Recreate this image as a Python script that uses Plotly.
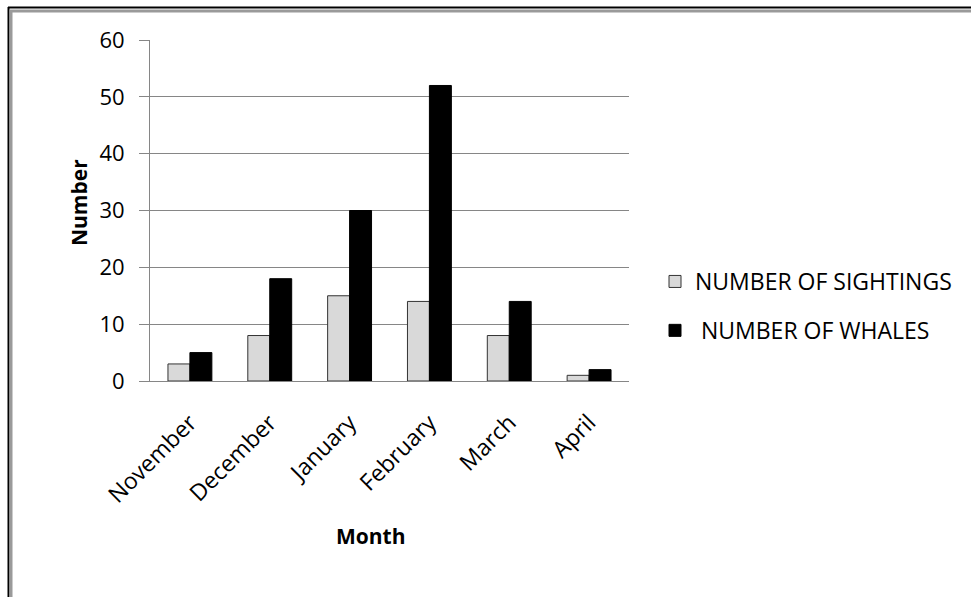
import plotly.graph_objects as go

# Monthly whale survey counts
months = ["November", "December", "January", "February", "March", "April"]
sightings = [3, 8, 15, 14, 8, 1]
whales = [5, 18, 30, 52, 14, 2]
y_ticks = [0, 10, 20, 30, 40, 50, 60]

W, H = 971, 597
L, R, T, B = 150, 342, 40, 216
PW, PH = W - L - R, H - T - B

FONT = "'Open Sans', Lato, sans-serif"


def px_x(x):
    return (x - L) / PW


def px_y(y):
    return 1 - (y - T) / PH


fig = go.Figure()
fig.add_trace(go.Bar(
    x=months, y=sightings, name="NUMBER OF SIGHTINGS", legendgroup="a",
    marker=dict(color="#d9d9d9", line=dict(color="#333333", width=1)),
))
fig.add_trace(go.Bar(
    x=months, y=whales, name=" NUMBER OF WHALES", legendgroup="b",
    marker=dict(color="#000000", line=dict(color="#000000", width=1)),
))

shapes = [
    # outer frame: thin black line with a grey inner rule
    dict(type="line", xref="paper", yref="paper",
         x0=px_x(8), x1=px_x(W + 5), y0=px_y(7.5), y1=px_y(7.5),
         line=dict(color="#000000", width=2)),
    dict(type="line", xref="paper", yref="paper",
         x0=px_x(8.5), x1=px_x(8.5), y0=px_y(7), y1=px_y(H + 5),
         line=dict(color="#000000", width=2)),
    dict(type="line", xref="paper", yref="paper",
         x0=px_x(10), x1=px_x(W + 5), y0=px_y(11), y1=px_y(11),
         line=dict(color="#9a9a9a", width=3)),
    dict(type="line", xref="paper", yref="paper",
         x0=px_x(11), x1=px_x(11), y0=px_y(10), y1=px_y(H + 5),
         line=dict(color="#9a9a9a", width=3)),
]

annotations = [
    dict(text="<b>Number</b>", xref="paper", yref="paper",
         x=px_x(63), y=px_y(203), textangle=-90, showarrow=False,
         font=dict(family=FONT, size=21, color="#000000")),
    dict(text="<b>Month</b>", xref="paper", yref="paper",
         x=px_x(371), y=px_y(552), showarrow=False,
         font=dict(family=FONT, size=21, color="#000000")),
]

fig.update_layout(
    width=W, height=H,
    margin=dict(l=L, r=R, t=T, b=B, autoexpand=False),
    paper_bgcolor="#ffffff", plot_bgcolor="#ffffff",
    barmode="group", bargap=0.45, bargroupgap=0,
    font=dict(family=FONT, size=22, color="#000000"),
    showlegend=True,
    legend=dict(x=px_x(655), y=px_y(260), xanchor="left", yanchor="top",
                traceorder="grouped", tracegroupgap=16,
                font=dict(family=FONT, size=23, color="#000000"),
                itemwidth=30, bgcolor="rgba(0,0,0,0)"),
    shapes=shapes,
    annotations=annotations,
)
fig.update_yaxes(
    range=[0, 60], tickvals=y_ticks, showgrid=True, gridcolor="#868686",
    gridwidth=1, zeroline=False, showline=True, linecolor="#868686",
    linewidth=1, ticks="outside", ticklen=10, tickcolor="#868686",
    ticklabelstandoff=10, tickfont=dict(family=FONT, size=22),
)
fig.update_xaxes(
    showline=True, linecolor="#868686", linewidth=1, ticks="",
    tickangle=-45, ticklabelstandoff=18, tickfont=dict(family=FONT, size=23),
)

fig.write_html("out.html")
